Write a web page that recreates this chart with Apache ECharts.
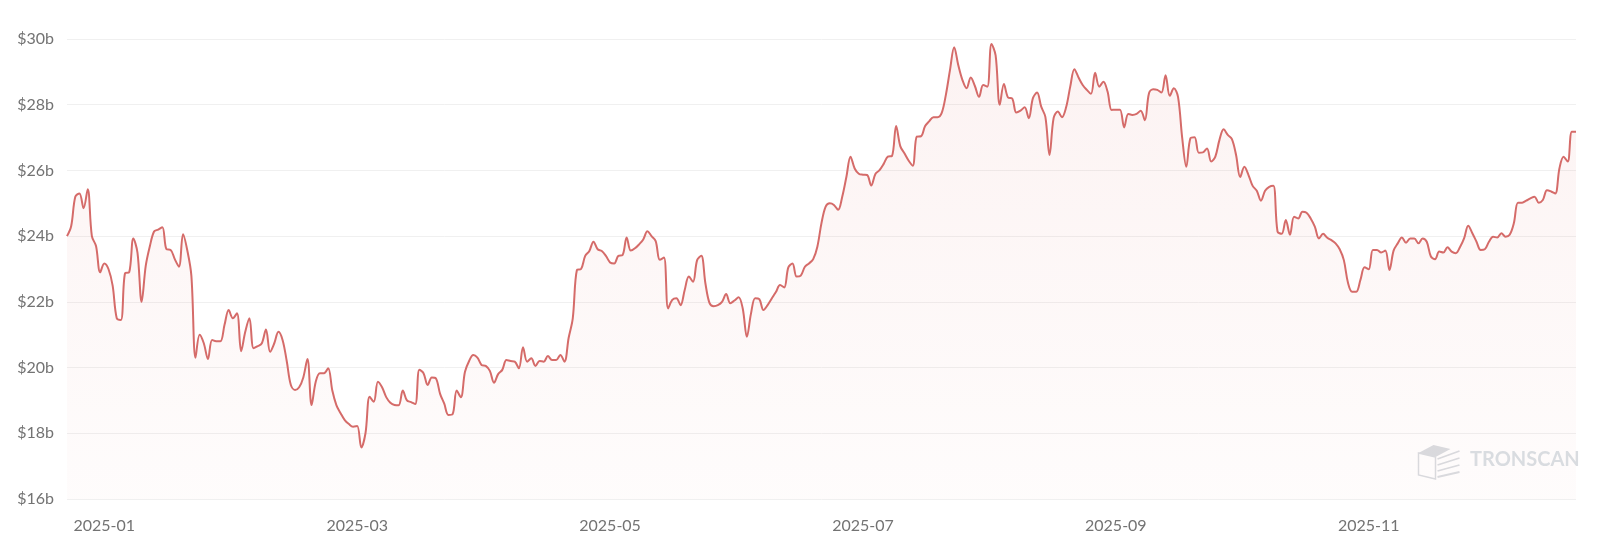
<!DOCTYPE html>
<html>
<head>
<meta charset="utf-8">
<script src="https://cdn.jsdelivr.net/npm/echarts@6/dist/echarts.min.js"></script>
<style>
html,body{margin:0;padding:0;background:#fff;}
#chart{width:1600px;height:555px;}
</style>
</head>
<body>
<div id="chart"></div>
<script>
// Daily values (billions USD), starting 2024-12-23
const startDate = '2024-12-23';
const values_a = [
24.0,24.3,25.2,25.3,24.85,25.43,24.0,23.7,22.9,23.17,
23.0,22.5,21.5,21.45,22.87,22.9,23.93,23.5,22.0,23.1,
23.7,24.14,24.2,24.27,23.6,23.58,23.3,23.07,24.06,23.58,
22.8,20.3,21.0,20.74,20.26,20.84,20.8,20.8,21.3,21.75,
21.5,21.65,20.5,21.09,21.5,20.59,20.65,20.74,21.16,20.48
];
const values_b = [
20.74,21.09,20.84,20.2,19.47,19.32,19.4,19.7,20.26,18.86,
19.57,19.83,19.83,19.98,19.3,18.85,18.61,18.4,18.28,18.2,
18.22,17.57,18.0,19.11,18.96,19.57,19.4,19.1,18.93,18.86,
18.85,19.3,19.0,18.95,18.89,19.93,19.83,19.47,19.7,19.67,
19.2,18.9,18.56,18.58,19.3,19.1,19.87,20.2,20.38,20.3
];
const values_c = [
20.08,20.05,19.9,19.54,19.8,19.93,20.23,20.2,20.18,19.98,
20.62,20.18,20.28,20.05,20.2,20.18,20.35,20.23,20.23,20.38,
20.18,20.9,21.5,22.97,23.0,23.4,23.55,23.83,23.6,23.55,
23.4,23.2,23.17,23.4,23.42,23.96,23.56,23.63,23.75,23.9,
24.15,24.0,23.85,23.28,23.35,21.8,22.06,22.11,21.9,22.36
];
const values_d = [
22.77,22.61,23.27,23.4,22.56,21.96,21.87,21.9,22.0,22.24,
21.96,22.04,22.14,21.8,20.94,21.65,22.11,22.08,21.75,21.9,
22.1,22.3,22.51,22.44,23.05,23.17,22.77,22.8,23.07,23.17,
23.3,23.68,24.4,24.9,25.0,24.95,24.8,25.2,25.8,26.42,
26.06,25.9,25.87,25.86,25.54,25.89,26.01,26.2,26.42,26.44
];
const values_e = [
27.35,26.74,26.52,26.3,26.14,27.03,27.04,27.35,27.5,27.62,
27.62,27.75,28.3,29.06,29.75,29.2,28.75,28.5,28.83,28.57,
28.24,28.6,28.55,29.85,29.5,28.0,28.63,28.22,28.19,27.76,
27.82,27.92,27.59,28.2,28.37,27.94,27.63,26.47,27.6,27.79,
27.62,27.92,28.55,29.08,28.83,28.6,28.45,28.33,28.97,28.55
];
const values_f = [
28.7,28.4,27.84,27.85,27.85,27.31,27.72,27.69,27.72,27.82,
27.53,28.35,28.47,28.45,28.37,28.9,28.27,28.5,28.24,27.0,
26.11,26.98,27.01,26.54,26.55,26.67,26.27,26.42,26.93,27.25,
27.08,26.95,26.47,25.8,26.11,25.86,25.53,25.38,25.08,25.38,
25.5,25.53,24.14,24.07,24.49,24.04,24.59,24.54,24.74,24.71
];
const values_g = [
24.54,24.29,23.93,24.07,23.95,23.88,23.78,23.6,23.27,22.58,
22.31,22.31,22.67,23.05,22.99,23.58,23.58,23.5,23.56,22.97,
23.56,23.78,23.96,23.8,23.93,23.93,23.78,23.93,23.83,23.38,
23.3,23.53,23.5,23.66,23.53,23.48,23.66,23.93,24.32,24.09,
23.83,23.58,23.6,23.83,23.98,23.96,24.09,23.98,24.04,24.39
];
const values_h = [
25.02,25.02,25.08,25.15,25.2,25.02,25.1,25.4,25.36,25.3,
26.06,26.42,26.27,27.18,27.18
];
const yTicks = [16, 18, 20, 22, 24, 26, 28, 30];
const xTickLabels = ['2025-01','2025-03','2025-05','2025-07','2025-09','2025-11'];
const firstLabelIndex = 9;
const labelStep = 61;

const values = [].concat(values_a, values_b, values_c, values_d, values_e, values_f, values_g, values_h);
const dates = [];
(function(){
  const d0 = new Date(startDate + 'T00:00:00Z');
  for (let i = 0; i < values.length; i++) {
    const d = new Date(d0.getTime() + i * 86400000);
    dates.push(d.toISOString().slice(0,10));
  }
})();

const chart = echarts.init(document.getElementById('chart'), null, {renderer:'canvas'});
const lineColor = '#d56b69';
const gray = '#d9dce0';
chart.setOption({
  animation: false,
  backgroundColor: '#ffffff',
  grid: {left: 67, right: 24, top: 39, bottom: 56},
  xAxis: {
    type: 'category',
    boundaryGap: false,
    data: dates,
    axisLine: {show: false},
    axisTick: {show: false},
    splitLine: {show: false},
    axisLabel: {
      interval: function(idx){ return idx >= firstLabelIndex && (idx - firstLabelIndex) % labelStep === 0; },
      formatter: function(v, idx){
        const k = (idx - firstLabelIndex) / labelStep;
        return xTickLabels[k] !== undefined ? xTickLabels[k] : v.slice(0,7);
      },
      color: '#737373',
      fontFamily: 'Lato',
      fontSize: 16,
      margin: 19
    }
  },
  yAxis: {
    type: 'value',
    min: yTicks[0],
    max: yTicks[yTicks.length-1],
    interval: 2,
    axisLine: {show: false},
    axisTick: {show: false},
    splitLine: {lineStyle: {color: '#f0f0f0', width: 1}},
    axisLabel: {
      formatter: function(v){ return '$' + v + 'b'; },
      color: '#737373',
      fontFamily: 'Lato',
      fontSize: 16,
      margin: 13
    }
  },
  series: [{
    type: 'line',
    data: values,
    smooth: 0.35,
    symbol: 'none',
    lineStyle: {color: lineColor, width: 2},
    areaStyle: {
      color: new echarts.graphic.LinearGradient(0, 0, 0, 1, [
        {offset: 0, color: 'rgba(222,110,105,0.12)'},
        {offset: 1, color: 'rgba(222,110,105,0.03)'}
      ])
    }
  }],
  graphic: [
    {
      type: 'group', left: 1416, top: 445, silent: true, z: 100,
      children: [
        {type: 'polygon', shape: {points: [[0,8],[15,0],[32,4],[17,12]]}, style: {fill: gray}},
        {type: 'polygon', shape: {points: [[0,8],[17,12],[17,34],[0,30]]}, style: {fill: 'none', stroke: gray, lineWidth: 1.5}},
        {type: 'line', shape: {x1: 19, y1: 14, x2: 41, y2: 6}, style: {stroke: gray, lineWidth: 1.8}},
        {type: 'line', shape: {x1: 19, y1: 20, x2: 41, y2: 13}, style: {stroke: gray, lineWidth: 1.8}},
        {type: 'line', shape: {x1: 19, y1: 26, x2: 41, y2: 20}, style: {stroke: gray, lineWidth: 1.8}},
        {type: 'line', shape: {x1: 19, y1: 32, x2: 41, y2: 27}, style: {stroke: gray, lineWidth: 1.8}}
      ]
    },
    {
      type: 'text', left: 1470, top: 450, silent: true, z: 100,
      style: {text: 'TRONSCAN', fill: gray, font: 'bold 20px Lato'}
    }
  ]
});
</script>
</body>
</html>
